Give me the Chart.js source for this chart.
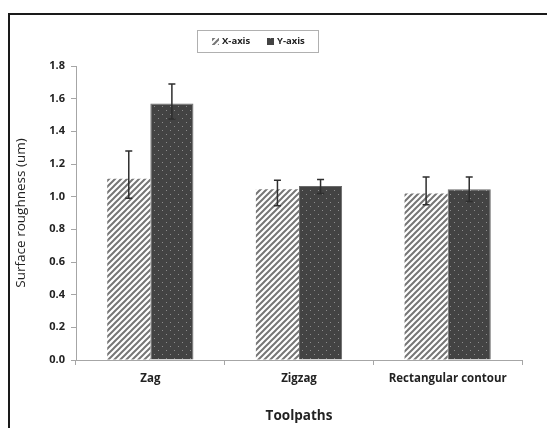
<!DOCTYPE html>
<html>
<head>
<meta charset="utf-8">
<script src="https://cdn.jsdelivr.net/npm/chart.js@4"></script>
<style>
  html, body { margin: 0; padding: 0; background: #fff; }
  #wrap { position: relative; width: 547px; height: 428px; overflow: hidden; }
  #frame { position: absolute; left: 8px; top: 13px; width: 700px; height: 600px;
           border-left: 2px solid #1a1a1a; border-top: 2px solid #1a1a1a; pointer-events: none; }
</style>
</head>
<body>
<div id="wrap">
  <canvas id="roughChart" width="547" height="428"></canvas>
  <div id="frame"></div>
</div>
<script>
// data
const categories = ['Zag', 'Zigzag', 'Rectangular contour'];
const seriesNames = ['X-axis', 'Y-axis'];
const xAxisValues = [1.11, 1.045, 1.02];
const yAxisValues = [1.57, 1.065, 1.045];
const xAxisErrLow = [0.99, 0.945, 0.95];
const xAxisErrHigh = [1.28, 1.10, 1.12];
const yAxisErrLow = [1.475, 1.02, 0.97];
const yAxisErrHigh = [1.69, 1.105, 1.12];
const yMax = 1.8;
const yStep = 0.2;

const FONT = "'Open Sans', 'Liberation Sans', sans-serif";

// hatch fill for X-axis bars
function makeHatch() {
  const c = document.createElement('canvas');
  c.width = 6; c.height = 6;
  const g = c.getContext('2d');
  g.fillStyle = '#fff';
  g.fillRect(0, 0, 6, 6);
  g.strokeStyle = '#767676';
  g.lineWidth = 2;
  g.beginPath();
  g.moveTo(-1, 7); g.lineTo(7, -1);
  g.moveTo(-4, 4); g.lineTo(4, -4);
  g.moveTo(2, 10); g.lineTo(10, 2);
  g.stroke();
  return g.createPattern(c, 'repeat');
}

// dotted dark fill for Y-axis bars
function makeDots() {
  const c = document.createElement('canvas');
  c.width = 8; c.height = 8;
  const g = c.getContext('2d');
  g.fillStyle = '#434343';
  g.fillRect(0, 0, 8, 8);
  g.fillStyle = '#8c8c8c';
  g.fillRect(2, 2, 1, 1);
  g.fillRect(6, 6, 1, 1);
  return g.createPattern(c, 'repeat');
}

const hatch = makeHatch();
const dots = makeDots();

const errLows = [xAxisErrLow, yAxisErrLow];
const errHighs = [xAxisErrHigh, yAxisErrHigh];

const errorBars = {
  id: 'errorBars',
  afterDatasetsDraw(chart) {
    const ctx = chart.ctx;
    const y = chart.scales.y;
    ctx.save();
    ctx.strokeStyle = '#2e2e2e';
    ctx.lineWidth = 1.5;
    chart.data.datasets.forEach((ds, i) => {
      chart.getDatasetMeta(i).data.forEach((bar, j) => {
        const top = y.getPixelForValue(errHighs[i][j]);
        const bot = y.getPixelForValue(errLows[i][j]);
        ctx.beginPath();
        ctx.moveTo(bar.x, top); ctx.lineTo(bar.x, bot);
        ctx.moveTo(bar.x - 3.5, top); ctx.lineTo(bar.x + 3.5, top);
        ctx.moveTo(bar.x - 3.5, bot); ctx.lineTo(bar.x + 3.5, bot);
        ctx.stroke();
      });
    });
    ctx.restore();
  }
};

// boxed legend like the original
const boxLegend = {
  id: 'boxLegend',
  afterDraw(chart) {
    const ctx = chart.ctx;
    ctx.save();
    ctx.strokeStyle = '#b0b0b0';
    ctx.lineWidth = 1;
    ctx.strokeRect(197.5, 30.5, 121, 22);
    ctx.font = 'bold 9.5px ' + FONT;
    ctx.textBaseline = 'middle';
    const xs = [212, 267];
    chart.data.datasets.forEach((ds, i) => {
      ctx.fillStyle = ds.backgroundColor;
      ctx.fillRect(xs[i], 38, 7, 7);
      ctx.fillStyle = '#222';
      ctx.fillText(ds.label, xs[i] + 10, 41.5);
    });
    ctx.restore();
  }
};

new Chart(document.getElementById('roughChart'), {
  type: 'bar',
  data: {
    labels: categories,
    datasets: [
      { label: seriesNames[0], data: xAxisValues, backgroundColor: hatch, borderWidth: 0 },
      { label: seriesNames[1], data: yAxisValues, backgroundColor: dots, borderColor: '#6a6a6a', borderWidth: 1 }
    ]
  },
  options: {
    responsive: false,
    animation: false,
    layout: { padding: { left: 9, right: 25, top: 66, bottom: 0 } },
    datasets: { bar: { categoryPercentage: 0.58, barPercentage: 1 } },
    plugins: { legend: { display: false }, tooltip: { enabled: false } },
    scales: {
      x: {
        grid: { offset: true, drawOnChartArea: false, drawTicks: true, tickLength: 5, color: '#a6a6a6' },
        border: { color: '#a6a6a6' },
        ticks: { padding: 7, color: '#222', font: { family: FONT, size: 11.5, weight: 'bold' } },
        title: { display: true, text: 'Toolpaths', color: '#222', padding: { top: 4, bottom: 4 },
                 font: { family: FONT, size: 13.5, weight: 'bold' } },
        afterFit(s) { s.height = 68; }
      },
      y: {
        min: 0, max: yMax,
        grid: { drawOnChartArea: false, drawTicks: true, tickLength: 5, color: '#a6a6a6' },
        border: { color: '#a6a6a6' },
        ticks: { stepSize: yStep, padding: 6, color: '#222',
                 font: { family: FONT, size: 11, weight: 'bold' },
                 callback: v => v.toFixed(1) },
        title: { display: true, text: 'Surface roughness (um)', color: '#222', padding: { top: 4, bottom: 0 },
                 font: { family: FONT, size: 13.5 } },
        afterFit(s) { s.width = 67; }
      }
    }
  },
  plugins: [errorBars, boxLegend]
});
</script>
</body>
</html>
